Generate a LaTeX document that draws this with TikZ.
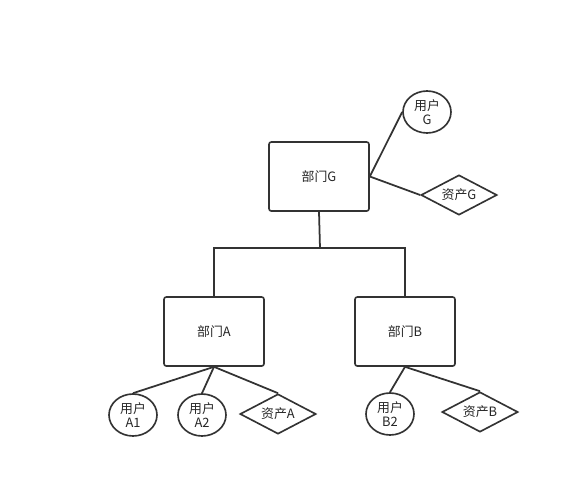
\documentclass[tikz,border=0pt]{standalone}
\usepackage{fontspec}
\setmainfont{Noto Sans CJK SC}
\usetikzlibrary{shapes.geometric}

\tikzset{
  dept/.style={draw=black!80,line width=1.4pt,rounded corners=2pt,
    minimum width=3cm,minimum height=2.07cm},
  user/.style={draw=black!80,line width=1.4pt,ellipse,
    minimum width=1.44cm,minimum height=1.26cm,inner sep=0pt,align=center},
  asset/.style={draw=black!80,line width=1.4pt,diamond,aspect=1.9,
    minimum width=2.28cm,minimum height=1.2cm,inner sep=0pt},
  link/.style={draw=black!80,line width=1.5pt},
}

\begin{document}
\begin{tikzpicture}[x=0.03cm,y=-0.03cm,font=\fontsize{11}{12}\selectfont,
  text=black!85]
  \useasboundingbox (0,0) rectangle (580,499);

  % Departments.
  \node[dept] (DG) at (319,176.5) {部门G};
  \node[dept] (DA) at (214,331.5) {部门A};
  \node[dept] (DB) at (405,331.5) {部门B};

  % Users and assets.
  \node[user]  (UG)  at (427,112) {用户\\G};
  \node[asset] (AG)  at (459,195) {资产G};
  \node[user]  (UA1) at (133,415) {用户\\A1};
  \node[user]  (UA2) at (202,415) {用户\\A2};
  \node[asset] (AA)  at (278,414) {资产A};
  \node[user]  (UB2) at (390,414) {用户\\B2};
  \node[asset] (AB)  at (480,412) {资产B};

  % Tree of departments.
  \coordinate (J) at (320,248);
  \draw[link] (DG.south) -- (J);
  \draw[link] (DA.north) |- (J) -| (DB.north);

  % Department links.
  \draw[link] (DG.east) -- (UG.west);
  \draw[link] (DG.east) -- (AG.west);
  \draw[link] (DA.south) -- (UA1.north);
  \draw[link] (DA.south) -- (UA2.north);
  \draw[link] (DA.south) -- (AA.north);
  \draw[link] (DB.south) -- (UB2.north);
  \draw[link] (DB.south) -- (AB.north);
\end{tikzpicture}
\end{document}
